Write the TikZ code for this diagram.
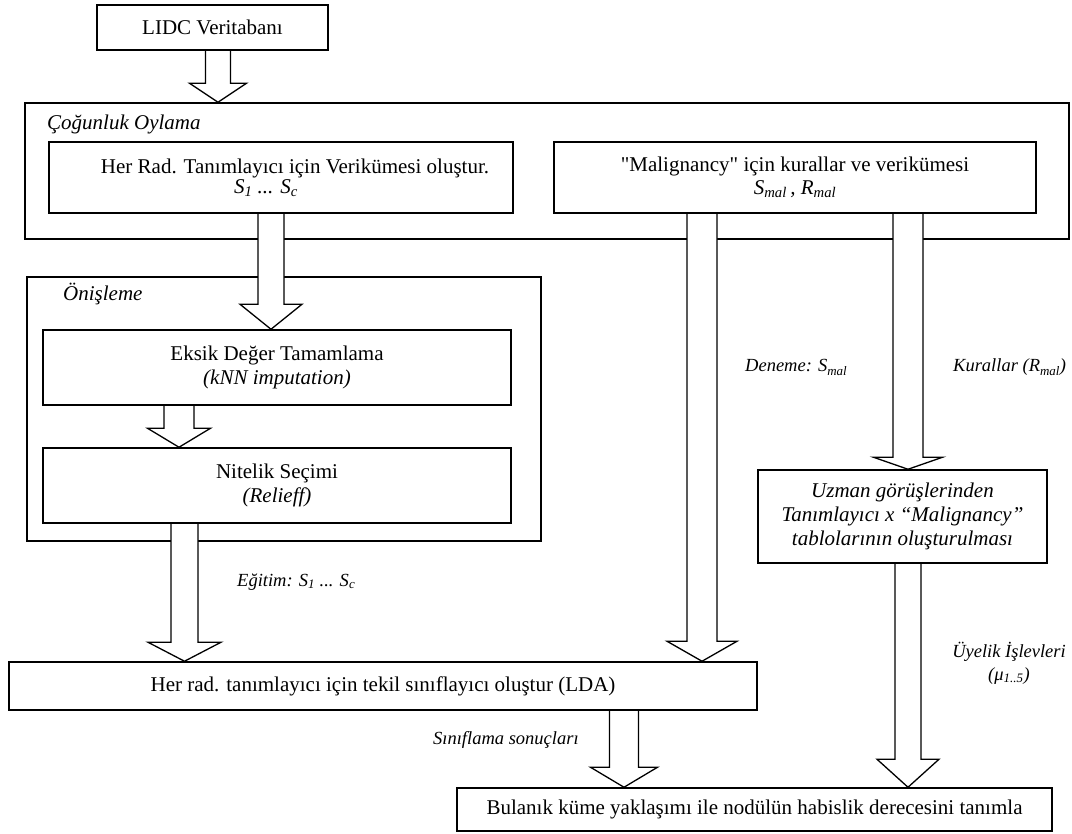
\documentclass[tikz,border=0pt]{standalone}
\usepackage{fontspec}
\setmainfont{Liberation Serif}
\newfontfamily\rawserif{Liberation Serif}[Ligatures=TeXOff]
\usetikzlibrary{calc}
\pgfdeclarelayer{bg}
\pgfdeclarelayer{mid}
\pgfsetlayers{bg,mid,main}
% #1 source node anchor, #2 target node anchor, #3 centre x, #4 half shaft, #5 half head, #6 head length
\newcommand\fatarrow[6]{%
  \filldraw[fill=white, draw=black, line width=1.3pt, line join=miter]
    let \p1=(#1), \p2=(#2) in
    (#3pt-#4pt,\y1) -- (#3pt-#4pt,\y2+#6pt) -- (#3pt-#5pt,\y2+#6pt) -- (#3pt,\y2)
    -- (#3pt+#5pt,\y2+#6pt) -- (#3pt+#4pt,\y2+#6pt) -- (#3pt+#4pt,\y1);
}
\tikzset{
  box/.style={draw, line width=1.5pt, fill=white, inner sep=0pt, align=center,
    font=\fontsize{21}{23}\selectfont},
  frame/.style={draw, line width=1.5pt, inner sep=0pt},
  grouplabel/.style={anchor=base west, inner sep=0pt, font=\fontsize{21}{23}\selectfont\itshape},
  flowlabel/.style={anchor=base west, inner sep=0pt, font=\fontsize{18.5}{20}\selectfont\itshape},
}
\begin{document}
\begin{tikzpicture}[x=1pt,y=-1pt]
\useasboundingbox (0,0) rectangle (1072,834);

\begin{pgfonlayer}{bg}
\node[frame, minimum width=1044pt, minimum height=136pt] (cog) at (547,171) {};
\node[frame, minimum width=514pt, minimum height=264pt] (onis) at (284,409) {};
\end{pgfonlayer}

\node[grouplabel] (coglbl) at (47,130) {Çoğunluk Oylama};
\node[grouplabel] (onislbl) at (63,301) {Önişleme};

\node[box, minimum width=231pt, minimum height=45pt] (lidc) at (212.5,27.5) {LIDC Veritabanı};
\node[box, minimum width=464pt, minimum height=71pt, font=\fontsize{21}{20}\selectfont] (herrad) at (281,177.5)
  {\hspace*{28pt}Her Rad. Tanımlayıcı için Verikümesi oluştur.\\ \hspace*{-30pt}\textit{S}\textsubscript{\textit{1}}\textit{ ... S}\textsubscript{\textit{c}}};
\node[box, minimum width=482pt, minimum height=71pt, font=\fontsize{21}{23}\selectfont] (mal) at (795,177.5)
  {{\rawserif"}Malignancy{\rawserif"} için kurallar ve verikümesi\\ \textit{S}\textsubscript{\textit{mal}}\textit{\,, R}\textsubscript{\textit{mal}}};
\node[box, minimum width=468pt, minimum height=75pt, font=\fontsize{21}{24}\selectfont] (eksik) at (277,367.5)
  {Eksik Değer Tamamlama\\ \textit{(kNN imputation)}};
\node[box, minimum width=468pt, minimum height=75pt, font=\fontsize{21}{24}\selectfont] (nitelik) at (277,485.5)
  {Nitelik Seçimi\\ \textit{(Relieff)}};
\node[box, minimum width=748pt, minimum height=48pt] (lda) at (383,686)
  {Her rad. tanımlayıcı için tekil sınıflayıcı oluştur (LDA)};
\node[box, minimum width=289pt, minimum height=93pt, font=\fontsize{21}{24}\selectfont\itshape] (uzman) at (902.5,516.5)
  {Uzman görüşlerinden\\ Tanımlayıcı x “Malignancy”\\ tablolarının oluşturulması};
\node[box, minimum width=595pt, minimum height=43pt] (bul) at (754.5,809.5)
  {Bulanık küme yaklaşımı ile nodülün habislik derecesini tanımla};

\begin{pgfonlayer}{mid}
\fatarrow{lidc.south}{cog.north}{218}{12.5}{28.5}{19}
\fatarrow{herrad.south}{eksik.north}{271}{13}{31}{25}
\fatarrow{eksik.south}{nitelik.north}{179}{15}{31.5}{19}
\fatarrow{nitelik.south}{lda.north}{184.5}{13.5}{36.5}{19}
\fatarrow{mal.south}{lda.north}{702}{15}{35}{20}
\fatarrow{mal.south}{uzman.north}{908}{15}{34.5}{12}
\fatarrow{uzman.south}{bul.north}{908}{13}{31}{28}
\fatarrow{lda.south}{bul.north}{624}{14.5}{33.5}{20}
\end{pgfonlayer}

\node[flowlabel] (egitim) at (237,586) {Eğitim: S\textsubscript{1} ... S\textsubscript{c}};
\node[flowlabel] (deneme) at (745,372) {Deneme: S\textsubscript{mal}};
\node[flowlabel] (kurallar) at (953,372) {Kurallar (R\textsubscript{mal})};
\node[flowlabel] (sinif) at (433,744) {Sınıflama sonuçları};
\node[flowlabel, anchor=base] (uyelik) at (1009,657) {Üyelik İşlevleri};
\node[flowlabel, anchor=base] (mu) at (1009,680) {(μ\textsubscript{1..5})};
\end{tikzpicture}
\end{document}
